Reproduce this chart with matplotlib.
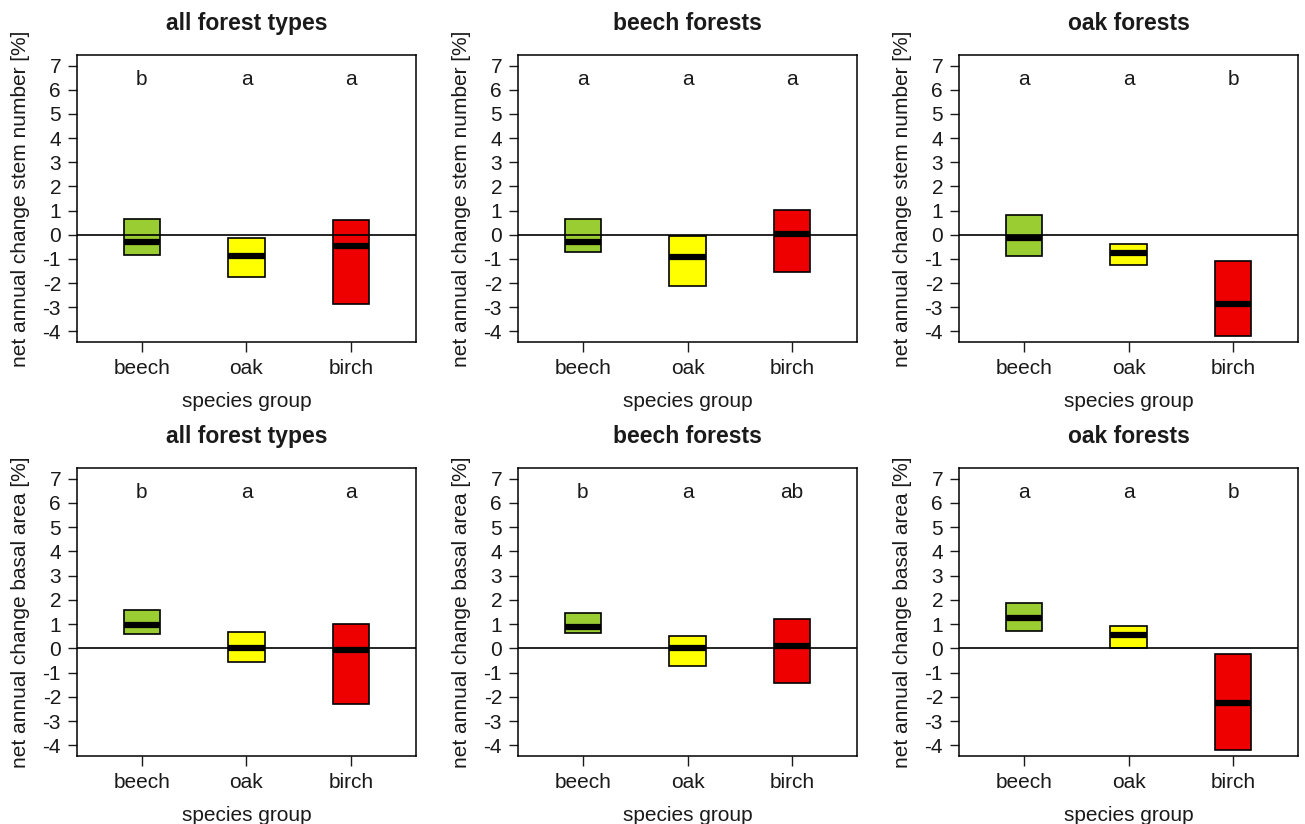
import matplotlib
matplotlib.use('Agg')
import matplotlib.pyplot as plt

# ---------------- data ----------------
species = ['beech', 'oak', 'birch']
box_colors = ['#9ACD32', '#FFFF00', '#EE0000']
panel_titles = ['all forest types', 'beech forests', 'oak forests']
row_ylabels = ['net annual change stem number [%]',
               'net annual change basal area [%]']
xlabel = 'species group'
yticks = [-4, -3, -2, -1, 0, 1, 2, 3, 4, 5, 6, 7]

# stem number: lower quartile, median, upper quartile (beech, oak, birch)
stem_all_q1 = [-0.83, -1.75, -2.85]
stem_all_med = [-0.28, -0.88, -0.47]
stem_all_q3 = [0.66, -0.14, 0.59]
stem_all_letters = ['b', 'a', 'a']

stem_beech_q1 = [-0.73, -2.12, -1.53]
stem_beech_med = [-0.28, -0.94, 0.01]
stem_beech_q3 = [0.66, -0.04, 1.02]
stem_beech_letters = ['a', 'a', 'a']

stem_oak_q1 = [-0.88, -1.24, -4.19]
stem_oak_med = [-0.12, -0.77, -2.87]
stem_oak_q3 = [0.80, -0.37, -1.10]
stem_oak_letters = ['a', 'a', 'b']

# basal area
basal_all_q1 = [0.58, -0.58, -2.28]
basal_all_med = [0.97, 0.0, -0.07]
basal_all_q3 = [1.60, 0.66, 1.02]
basal_all_letters = ['b', 'a', 'a']

basal_beech_q1 = [0.65, -0.73, -1.41]
basal_beech_med = [0.90, 0.0, 0.08]
basal_beech_q3 = [1.46, 0.50, 1.23]
basal_beech_letters = ['b', 'a', 'ab']

basal_oak_q1 = [0.73, 0.03, -4.18]
basal_oak_med = [1.25, 0.54, -2.25]
basal_oak_q3 = [1.89, 0.94, -0.23]
basal_oak_letters = ['a', 'a', 'b']

panels = [
    [(stem_all_q1, stem_all_med, stem_all_q3, stem_all_letters),
     (stem_beech_q1, stem_beech_med, stem_beech_q3, stem_beech_letters),
     (stem_oak_q1, stem_oak_med, stem_oak_q3, stem_oak_letters)],
    [(basal_all_q1, basal_all_med, basal_all_q3, basal_all_letters),
     (basal_beech_q1, basal_beech_med, basal_beech_q3, basal_beech_letters),
     (basal_oak_q1, basal_oak_med, basal_oak_q3, basal_oak_letters)],
]

# ---------------- style ----------------
plt.rcParams['font.family'] = ['Liberation Sans', 'DejaVu Sans']
FS = 15
W, H = 1305, 824
fig = plt.figure(figsize=(W / 100, H / 100), dpi=100)

col_left = [77, 518, 959]
col_w = 339
row_top = [55, 468]
row_h = [287, 288]

LETTER_Y = 6.2
positions = [1, 2, 3]

for r in range(2):
    for c in range(3):
        q1s, meds, q3s, letters = panels[r][c]
        rect = [col_left[c] / W, 1 - (row_top[r] + row_h[r]) / H,
                col_w / W, row_h[r] / H]
        ax = fig.add_axes(rect)
        stats = []
        for i in range(3):
            stats.append(dict(q1=q1s[i], med=meds[i], q3=q3s[i],
                              whislo=q1s[i], whishi=q3s[i], fliers=[],
                              label=species[i]))
        bp = ax.bxp(stats, positions=positions, widths=0.35,
                    patch_artist=True, showfliers=False, showcaps=False,
                    boxprops=dict(edgecolor='black', linewidth=1.2),
                    whiskerprops=dict(linewidth=0),
                    medianprops=dict(color='black', linewidth=4.5,
                                     solid_capstyle='butt'))
        for patch, col in zip(bp['boxes'], box_colors):
            patch.set_facecolor(col)
        ax.axhline(0, color='black', linewidth=1.2, zorder=5)
        for i in range(3):
            ax.text(positions[i], LETTER_Y, letters[i], ha='center',
                    va='baseline', fontsize=FS, color='#1a1a1a')
        ax.set_xlim(0.38, 3.62)
        ax.set_ylim(-4.44, 7.44)
        ax.set_yticks(yticks)
        ax.set_yticklabels([str(v) for v in yticks])
        ax.set_xticks(positions)
        ax.set_xticklabels(species)
        ax.tick_params(axis='y', direction='out', length=6.5, width=1,
                       pad=5, labelsize=FS, colors='#1a1a1a')
        ax.tick_params(axis='x', direction='out', length=7, width=1,
                       pad=5, labelsize=FS, colors='#1a1a1a')
        for sp in ax.spines.values():
            sp.set_linewidth(1.1)
        ax.set_ylabel(row_ylabels[r], fontsize=FS, va='center',
                      color='#1a1a1a')
        ax.yaxis.set_label_coords(-0.168, 0.5)
        ax.set_xlabel(xlabel, fontsize=FS, va='center', color='#1a1a1a')
        ax.xaxis.set_label_coords(0.5, -0.208)
        ax.text(0.5, 1.11, panel_titles[c], transform=ax.transAxes,
                ha='center', va='center', fontsize=16.5,
                fontweight='bold', color='#1a1a1a')

fig.savefig('out.png', dpi=100)
